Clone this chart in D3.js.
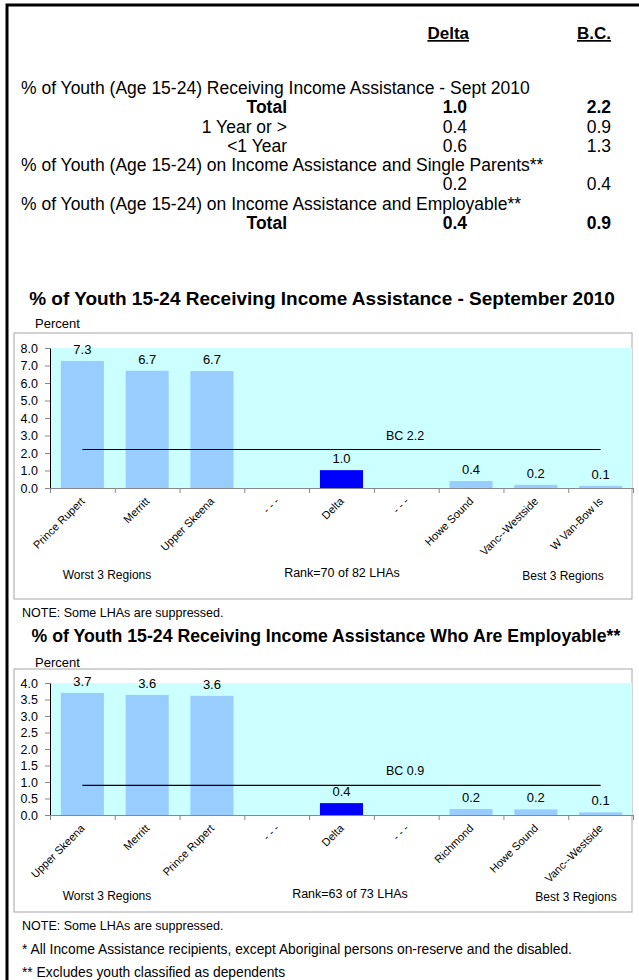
<!DOCTYPE html>
<html>
<head>
<meta charset="utf-8">
<script src="https://cdn.jsdelivr.net/npm/d3@7"></script>
<style>
  body { margin: 0; background: #fff; }
  text { font-family: Arial, "Liberation Sans", sans-serif; fill: #000; }
</style>
</head>
<body>
<script>
// summary table
var tableLabels = [
  "% of Youth (Age 15-24) Receiving Income Assistance - Sept 2010",
  "Total", "1 Year or >", "<1 Year",
  "% of Youth (Age 15-24) on Income Assistance and Single Parents**",
  "",
  "% of Youth (Age 15-24) on Income Assistance and Employable**",
  "Total"
];
var deltaVals = [null, "1.0", "0.4", "0.6", null, "0.2", null, "0.4"];
var bcVals    = [null, "2.2", "0.9", "1.3", null, "0.4", null, "0.9"];

// chart 1
var regions1 = ["Prince Rupert", "Merritt", "Upper Skeena", "- - -", "Delta", "- - -", "Howe Sound", "Vanc--Westside", "W Van-Bow Is"];
var values1  = [7.26, 6.70, 6.68, null, 1.02, null, 0.40, 0.18, 0.12];
var yTicks1  = [0, 1, 2, 3, 4, 5, 6, 7, 8];
var bc1 = 2.2;
var rank1 = "Rank=70 of 82 LHAs";

// chart 2
var regions2 = ["Upper Skeena", "Merritt", "Prince Rupert", "- - -", "Delta", "- - -", "Richmond", "Howe Sound", "Vanc--Westside"];
var values2  = [3.70, 3.64, 3.61, null, 0.36, null, 0.18, 0.17, 0.08];
var yTicks2  = [0, 0.5, 1, 1.5, 2, 2.5, 3, 3.5, 4];
var bc2 = 0.9;
var rank2 = "Rank=63 of 73 LHAs";

var width = 639;
var height = 980;

var svg = d3.select("body").append("svg")
    .attr("width", width)
    .attr("height", height);

// page frame (runs off the right/bottom edge)
svg.append("rect")
    .attr("x", 7).attr("y", 5)
    .attr("width", 700).attr("height", 1000)
    .attr("fill", "none")
    .attr("stroke", "#000")
    .attr("stroke-width", 3);

// ---- table ----
var rowY = d3.scaleLinear().domain([0, 7]).range([94, 229]);
var deltaRight = 467, bcRight = 611, labelRight = 287;
var tableSize = 17.5;

svg.append("text")
    .attr("x", deltaRight + 2).attr("y", 39)
    .attr("text-anchor", "end")
    .attr("font-size", 17).attr("font-weight", "bold")
    .style("text-decoration", "underline")
    .text("Delta");
svg.append("text")
    .attr("x", bcRight).attr("y", 39)
    .attr("text-anchor", "end")
    .attr("font-size", 17).attr("font-weight", "bold")
    .style("text-decoration", "underline")
    .text("B.C.");

tableLabels.forEach(function(lab, i) {
    var heading = lab.indexOf("%") === 0;
    var bold = lab === "Total";
    svg.append("text")
        .attr("x", heading ? 21 : labelRight)
        .attr("y", rowY(i))
        .attr("text-anchor", heading ? "start" : "end")
        .attr("font-size", tableSize)
        .attr("font-weight", bold ? "bold" : "normal")
        .text(lab);
    if (deltaVals[i] != null) {
        svg.append("text")
            .attr("x", deltaRight).attr("y", rowY(i))
            .attr("text-anchor", "end")
            .attr("font-size", tableSize)
            .attr("font-weight", bold ? "bold" : "normal")
            .text(deltaVals[i]);
        svg.append("text")
            .attr("x", bcRight).attr("y", rowY(i))
            .attr("text-anchor", "end")
            .attr("font-size", tableSize)
            .attr("font-weight", bold ? "bold" : "normal")
            .text(bcVals[i]);
    }
});

// ---- bar charts ----
function drawChart(c) {
    var g = svg.append("g");

    g.append("text")
        .attr("x", c.titleX).attr("y", c.titleY)
        .attr("text-anchor", "middle")
        .attr("font-size", c.titleSize).attr("font-weight", "bold")
        .text(c.title);

    g.append("text")
        .attr("x", 35).attr("y", c.percentY)
        .attr("font-size", 13)
        .text("Percent");

    g.append("rect")
        .attr("x", 14).attr("y", c.boxTop)
        .attr("width", 618).attr("height", c.boxBottom - c.boxTop)
        .attr("fill", "#fff")
        .attr("stroke", "#a6a6a6");

    var x = d3.scaleBand()
        .domain(d3.range(c.regions.length))
        .range([50, 633])
        .paddingInner(0.335)
        .paddingOuter(0.1675);

    var y = d3.scaleLinear()
        .domain([0, c.yMax])
        .range([c.plotBottom, c.plotTop]);

    g.append("rect")
        .attr("x", 50).attr("y", y(c.yMax))
        .attr("width", 632 - 50).attr("height", y(0) - y(c.yMax))
        .attr("fill", "#ccffff");

    var bars = c.values.map(function(v, i) { return {i: i, v: v, name: c.regions[i]}; })
        .filter(function(d) { return d.v != null; });

    g.selectAll(".bar")
        .data(bars)
        .enter()
        .append("rect")
        .attr("x", function(d) { return x(d.i); })
        .attr("y", function(d) { return y(d.v); })
        .attr("width", x.bandwidth())
        .attr("height", function(d) { return y(0) - y(d.v); })
        .attr("fill", function(d) { return d.name === "Delta" ? "#0000ff" : "#99ccff"; });

    g.selectAll(".val")
        .data(bars)
        .enter()
        .append("text")
        .attr("x", function(d) { return x(d.i) + x.bandwidth() / 2; })
        .attr("y", function(d) { return y(d.v) - 7; })
        .attr("text-anchor", "middle")
        .attr("font-size", 13)
        .text(function(d) { return d.v.toFixed(1); });

    // y axis
    var yAxis = d3.axisLeft(y)
        .tickValues(c.yTicks)
        .tickFormat(d3.format(".1f"))
        .tickSize(5)
        .tickSizeOuter(0)
        .tickPadding(7);
    var ya = g.append("g")
        .attr("transform", "translate(50,0)")
        .call(yAxis);
    ya.select(".domain").attr("stroke", "#000");
    ya.selectAll(".tick line").attr("stroke", "#888");
    ya.selectAll(".tick text")
        .attr("font-size", 12.5)
        .attr("font-family", "Arial, 'Liberation Sans', sans-serif");

    // x axis: line with ticks on band boundaries
    var xLin = d3.scaleLinear().domain([0, c.regions.length]).range([50, 633]);
    var xa = g.append("g")
        .attr("transform", "translate(0," + y(0) + ")")
        .call(d3.axisBottom(xLin).ticks(c.regions.length).tickFormat("").tickSize(5).tickSizeOuter(0));
    xa.select(".domain").attr("stroke", "#888");
    xa.selectAll(".tick line").attr("stroke", "#888");

    // category labels
    g.selectAll(".cat")
        .data(c.regions)
        .enter()
        .append("text")
        .attr("transform", function(d, i) {
            return "translate(" + (x(i) + x.bandwidth() / 2 + 3) + "," + (y(0) + 14) + ") rotate(-45)";
        })
        .attr("text-anchor", "end")
        .attr("font-size", 11)
        .text(function(d) { return d; });

    // BC reference line
    var first = x(0) + x.bandwidth() / 2;
    var last = x(c.regions.length - 1) + x.bandwidth() / 2;
    g.append("line")
        .attr("x1", first).attr("x2", last)
        .attr("y1", y(c.bc)).attr("y2", y(c.bc))
        .attr("stroke", "#000")
        .attr("stroke-width", 1.2);
    g.append("text")
        .attr("x", 405).attr("y", y(c.bc) - 10)
        .attr("text-anchor", "middle")
        .attr("font-size", 12.5)
        .text("BC " + c.bc.toFixed(1));

    g.append("text")
        .attr("x", 107).attr("y", c.footY)
        .attr("text-anchor", "middle").attr("font-size", 12)
        .text("Worst 3 Regions");
    g.append("text")
        .attr("x", c.rankX).attr("y", c.footY - 2)
        .attr("text-anchor", "middle").attr("font-size", 12.5)
        .text(c.rank);
    g.append("text")
        .attr("x", c.bestX).attr("y", c.footY + 1)
        .attr("text-anchor", "middle").attr("font-size", 12)
        .text("Best 3 Regions");

    g.append("text")
        .attr("x", 22).attr("y", c.noteY)
        .attr("font-size", 12.5)
        .text("NOTE:  Some LHAs are suppressed.");
}

drawChart({
    title: "% of Youth 15-24 Receiving Income Assistance - September 2010",
    titleX: 322, titleY: 305, titleSize: 19, percentY: 328,
    boxTop: 333, boxBottom: 599, plotTop: 348, plotBottom: 488,
    regions: regions1, values: values1, yTicks: yTicks1, yMax: 8,
    bc: bc1, rank: rank1, rankX: 342, bestX: 563, footY: 579, noteY: 617
});

drawChart({
    title: "% of Youth 15-24 Receiving Income Assistance Who Are Employable**",
    titleX: 326, titleY: 642, titleSize: 17.7, percentY: 667,
    boxTop: 669, boxBottom: 912, plotTop: 683, plotBottom: 815,
    regions: regions2, values: values2, yTicks: yTicks2, yMax: 4,
    bc: bc2, rank: rank2, rankX: 350, bestX: 576, footY: 900, noteY: 930
});

svg.append("text")
    .attr("x", 22).attr("y", 954)
    .attr("font-size", 13.8)
    .text("* All Income Assistance recipients, except Aboriginal persons on-reserve and the disabled.");
svg.append("text")
    .attr("x", 22).attr("y", 977)
    .attr("font-size", 13.8)
    .text("** Excludes youth classified as dependents");
</script>
</body>
</html>
